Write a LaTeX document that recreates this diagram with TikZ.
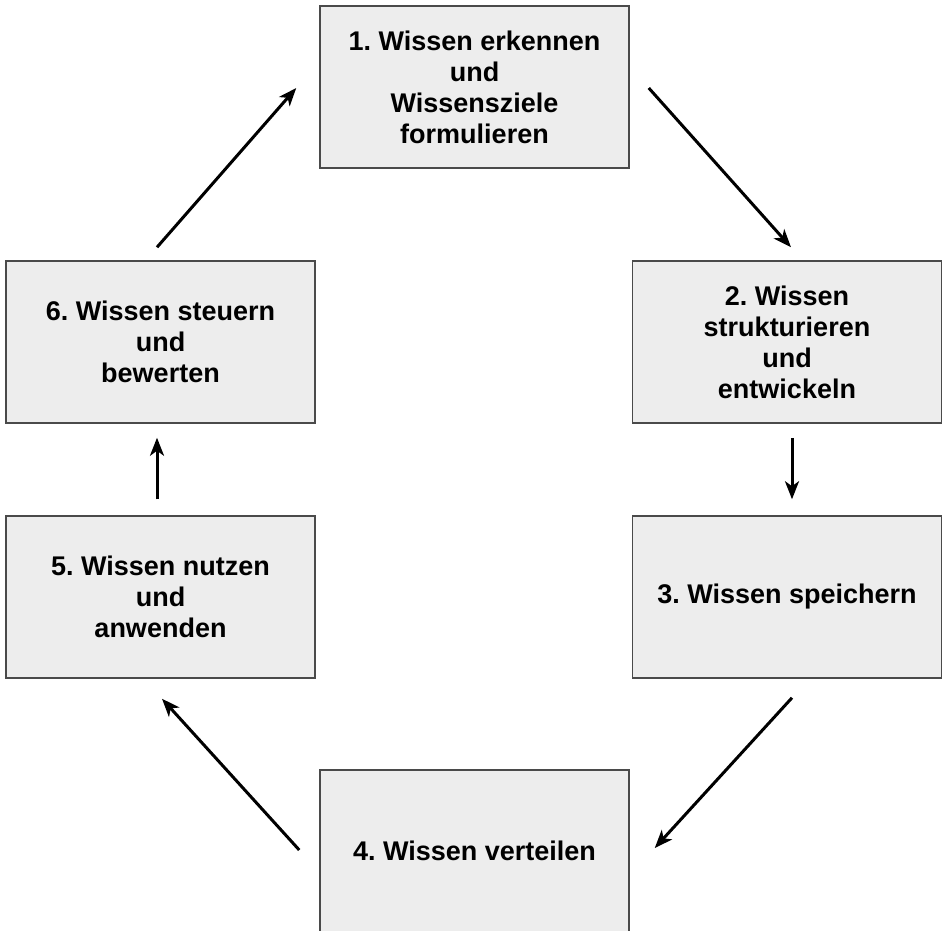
\documentclass[tikz,border=0pt]{standalone}
\usepackage{fontspec}
\setmainfont{Liberation Sans}
\usetikzlibrary{arrows.meta,calc}
\definecolor{boxfill}{HTML}{EDEDED}
\definecolor{boxline}{HTML}{4A4A4A}
\tikzset{
  stage/.style={draw=boxline, fill=boxfill, line width=1.5pt, minimum width=309pt, minimum height=162pt, inner sep=0pt, align=center, font=\frenchspacing\fontsize{27}{31}\selectfont\bfseries},
  flow/.style={line width=3pt, -{Stealth[length=18pt,width=14pt,inset=5pt]}}
}
\begin{document}
\begin{tikzpicture}[x=1pt,y=-1pt]
\useasboundingbox[fill=white] (0,0) rectangle (942,930);
\node[stage] (b1) at (474.5,87) {1. Wissen erkennen\\und\\Wissensziele\\formulieren};
\node[stage] (b2) at (787,342) {2. Wissen\\strukturieren\\und\\entwickeln};
\node[stage] (b3) at (787,597) {3. Wissen speichern};
\node[stage] (b4) at (474.5,851) {4. Wissen verteilen};
\node[stage] (b5) at (160.5,597) {5. Wissen nutzen\\und\\anwenden};
\node[stage] (b6) at (160.5,342) {6. Wissen steuern\\und\\bewerten};
\draw[flow] ($(b1.east)+(19,1)$) -- ($(b2.north)+(4,-13)$);
\draw[flow] ($(b2.south)+(5,14)$) -- ($(b3.north)+(5,-16)$);
\draw[flow] ($(b3.south)+(5,19)$) -- ($(b4.east)+(25,-3)$);
\draw[flow] ($(b4.west)+(-20,-1)$) -- ($(b5.south)+(1.5,20)$);
\draw[flow] ($(b5.north)+(-3.5,-16)$) -- ($(b6.south)+(-3.5,14)$);
\draw[flow] ($(b6.north)+(-3.5,-13)$) -- ($(b1.west)+(-23,1)$);
\end{tikzpicture}
\end{document}
